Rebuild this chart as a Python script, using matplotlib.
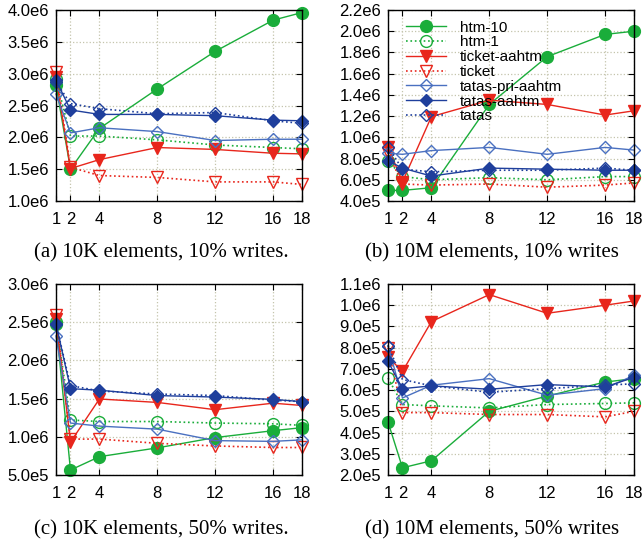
import matplotlib
matplotlib.use("Agg")
import matplotlib.pyplot as plt

threads = [1, 2, 4, 8, 12, 16, 18]
series_names = ["htm-10", "htm-1", "ticket-aahtm", "ticket",
                "tatas-pri-aahtm", "tatas-aahtm", "tatas"]

# (a) 10K elements, 10% writes
a_htm10 = [2.82e6, 1.50e6, 2.14e6, 2.76e6, 3.35e6, 3.84e6, 3.96e6]
a_htm1 = [2.92e6, 2.02e6, 2.02e6, 1.96e6, 1.88e6, 1.84e6, 1.82e6]
a_ticket_aahtm = [2.95e6, 1.51e6, 1.65e6, 1.84e6, 1.81e6, 1.75e6, 1.74e6]
a_ticket = [3.03e6, 1.53e6, 1.40e6, 1.37e6, 1.30e6, 1.30e6, 1.26e6]
a_tatas_pri = [2.68e6, 2.07e6, 2.15e6, 2.09e6, 1.95e6, 1.97e6, 1.97e6]
a_tatas_aahtm = [2.90e6, 2.43e6, 2.36e6, 2.36e6, 2.34e6, 2.27e6, 2.26e6]
a_tatas = [2.87e6, 2.53e6, 2.45e6, 2.37e6, 2.39e6, 2.26e6, 2.22e6]

# (b) 10M elements, 10% writes
b_htm10 = [5.0e5, 5.0e5, 5.25e5, 1.31e6, 1.76e6, 1.97e6, 2.0e6]
b_htm1 = [7.8e5, 6.3e5, 6.0e5, 6.2e5, 6.0e5, 6.3e5, 6.3e5]
b_ticket_aahtm = [9.1e5, 5.8e5, 1.195e6, 1.35e6, 1.31e6, 1.21e6, 1.25e6]
b_ticket = [8.5e5, 5.6e5, 5.5e5, 5.6e5, 5.3e5, 5.5e5, 5.7e5]
b_tatas_pri = [8.5e5, 8.4e5, 8.75e5, 9.05e5, 8.4e5, 9.05e5, 8.8e5]
b_tatas_aahtm = [7.8e5, 7.1e5, 6.35e5, 7.1e5, 7.0e5, 6.9e5, 6.9e5]
b_tatas = [9.1e5, 7.0e5, 6.75e5, 6.9e5, 6.9e5, 7.1e5, 6.9e5]

# (c) 10K elements, 50% writes
c_htm10 = [2.48e6, 5.65e5, 7.4e5, 8.55e5, 9.9e5, 1.08e6, 1.12e6]
c_htm1 = [2.50e6, 1.22e6, 1.20e6, 1.20e6, 1.18e6, 1.17e6, 1.15e6]
c_ticket_aahtm = [2.54e6, 9.3e5, 1.495e6, 1.45e6, 1.355e6, 1.44e6, 1.41e6]
c_ticket = [2.59e6, 9.7e5, 9.7e5, 9.15e5, 8.8e5, 8.6e5, 8.6e5]
c_tatas_pri = [2.32e6, 1.18e6, 1.14e6, 1.10e6, 9.5e5, 9.4e5, 9.6e5]
c_tatas_aahtm = [2.48e6, 1.63e6, 1.61e6, 1.54e6, 1.52e6, 1.49e6, 1.46e6]
c_tatas = [2.48e6, 1.67e6, 1.60e6, 1.56e6, 1.54e6, 1.48e6, 1.46e6]

# (d) 10M elements, 50% writes
d_htm10 = [4.5e5, 2.34e5, 2.67e5, 5.0e5, 5.72e5, 6.38e5, 6.54e5]
d_htm1 = [6.57e5, 5.32e5, 5.26e5, 5.16e5, 5.32e5, 5.37e5, 5.4e5]
d_ticket_aahtm = [7.56e5, 6.88e5, 9.23e5, 1.05e6, 9.62e5, 1.0e6, 1.02e6]
d_ticket = [8.0e5, 4.94e5, 4.94e5, 4.85e5, 4.85e5, 4.74e5, 5.0e5]
d_tatas_pri = [8.1e5, 5.63e5, 6.23e5, 6.54e5, 5.76e5, 6.07e5, 6.7e5]
d_tatas_aahtm = [7.35e5, 6.07e5, 6.2e5, 6.04e5, 6.26e5, 6.15e5, 6.6e5]
d_tatas = [8.1e5, 6.5e5, 6.2e5, 5.9e5, 6.07e5, 6.23e5, 6.3e5]

captions = ["(a) 10K elements, 10% writes.", "(b) 10M elements, 10% writes",
            "(c) 10K elements, 50% writes.", "(d) 10M elements, 50% writes"]

GREEN = "#1aad3a"
RED = "#e8261c"
BLUE = "#1f3f9c"
LBLUE = "#4a70c0"

styles = [
    dict(color=GREEN, ls="-", marker="o", mfc=GREEN, ms=8.5, lw=1.0),
    dict(color=GREEN, ls=":", marker="o", mfc="none", ms=8.5, lw=1.2),
    dict(color=RED, ls="-", marker="v", mfc=RED, ms=8, lw=1.0),
    dict(color=RED, ls=":", marker="v", mfc="none", ms=8, lw=1.2),
    dict(color=LBLUE, ls="-", marker="D", mfc="none", ms=6.5, lw=1.0),
    dict(color=BLUE, ls="-", marker="D", mfc=BLUE, ms=6.5, lw=1.0),
    dict(color=BLUE, ls=":", marker="D", mfc="none", ms=6.5, lw=1.2),
]

panels = [
    ([a_htm10, a_htm1, a_ticket_aahtm, a_ticket, a_tatas_pri, a_tatas_aahtm, a_tatas],
     (1.0e6, 4.0e6), [1.0e6, 1.5e6, 2.0e6, 2.5e6, 3.0e6, 3.5e6, 4.0e6]),
    ([b_htm10, b_htm1, b_ticket_aahtm, b_ticket, b_tatas_pri, b_tatas_aahtm, b_tatas],
     (4.0e5, 2.2e6), [4e5, 6e5, 8e5, 1.0e6, 1.2e6, 1.4e6, 1.6e6, 1.8e6, 2.0e6, 2.2e6]),
    ([c_htm10, c_htm1, c_ticket_aahtm, c_ticket, c_tatas_pri, c_tatas_aahtm, c_tatas],
     (5.0e5, 3.0e6), [5e5, 1.0e6, 1.5e6, 2.0e6, 2.5e6, 3.0e6]),
    ([d_htm10, d_htm1, d_ticket_aahtm, d_ticket, d_tatas_pri, d_tatas_aahtm, d_tatas],
     (2.0e5, 1.1e6), [2e5, 3e5, 4e5, 5e5, 6e5, 7e5, 8e5, 9e5, 1.0e6, 1.1e6]),
]


def fmt(v):
    e = len(str(int(v))) - 1
    return "%.1fe%d" % (v / 10 ** e, e)


W, H = 644, 544
fig = plt.figure(figsize=(6.44, 5.44), dpi=100)
plt.rcParams["font.family"] = "Liberation Sans"

boxes = [(56, 10), (388, 10), (56, 284), (388, 284)]
cap_pos = [(161, 253), (492, 253), (161, 530), (492, 530)]

for i, (series, ylim, yticks) in enumerate(panels):
    x0, y0 = boxes[i]
    ax = fig.add_axes([x0 / W, 1 - (y0 + 191) / H, 246 / W, 191 / H])
    for name, vals, st in zip(series_names, series, styles):
        ax.plot(threads, vals, label=name, color=st["color"], ls=st["ls"],
                lw=st["lw"], marker=st["marker"], ms=st["ms"],
                mfc=st["mfc"], mec=st["color"], mew=1.0, clip_on=False)
    ax.set_xlim(1, 18)
    ax.set_ylim(*ylim)
    ax.set_xticks(threads)
    ax.set_yticks(yticks)
    ax.set_yticklabels([fmt(v) for v in yticks])
    ax.tick_params(direction="in", top=True, right=True, labelsize=12,
                   length=4, width=0.8)
    ax.tick_params(axis="x", pad=8)
    ax.tick_params(axis="y", pad=5)
    ax.grid(True, ls=":", color="#c4c4ac", lw=0.9)
    for s in ax.spines.values():
        s.set_linewidth(1.0)
    cx, cy = cap_pos[i]
    fig.text(cx / W, 1 - cy / H, captions[i], ha="center", va="center",
             fontsize=15, family="Liberation Serif")
    if i == 1:
        ax.legend(loc="upper left", bbox_to_anchor=(0.03, 1.0), frameon=False,
                  fontsize=11, handlelength=2.6, labelspacing=0.05,
                  borderaxespad=0.3, handletextpad=0.9)

fig.savefig("out.png", dpi=100)
